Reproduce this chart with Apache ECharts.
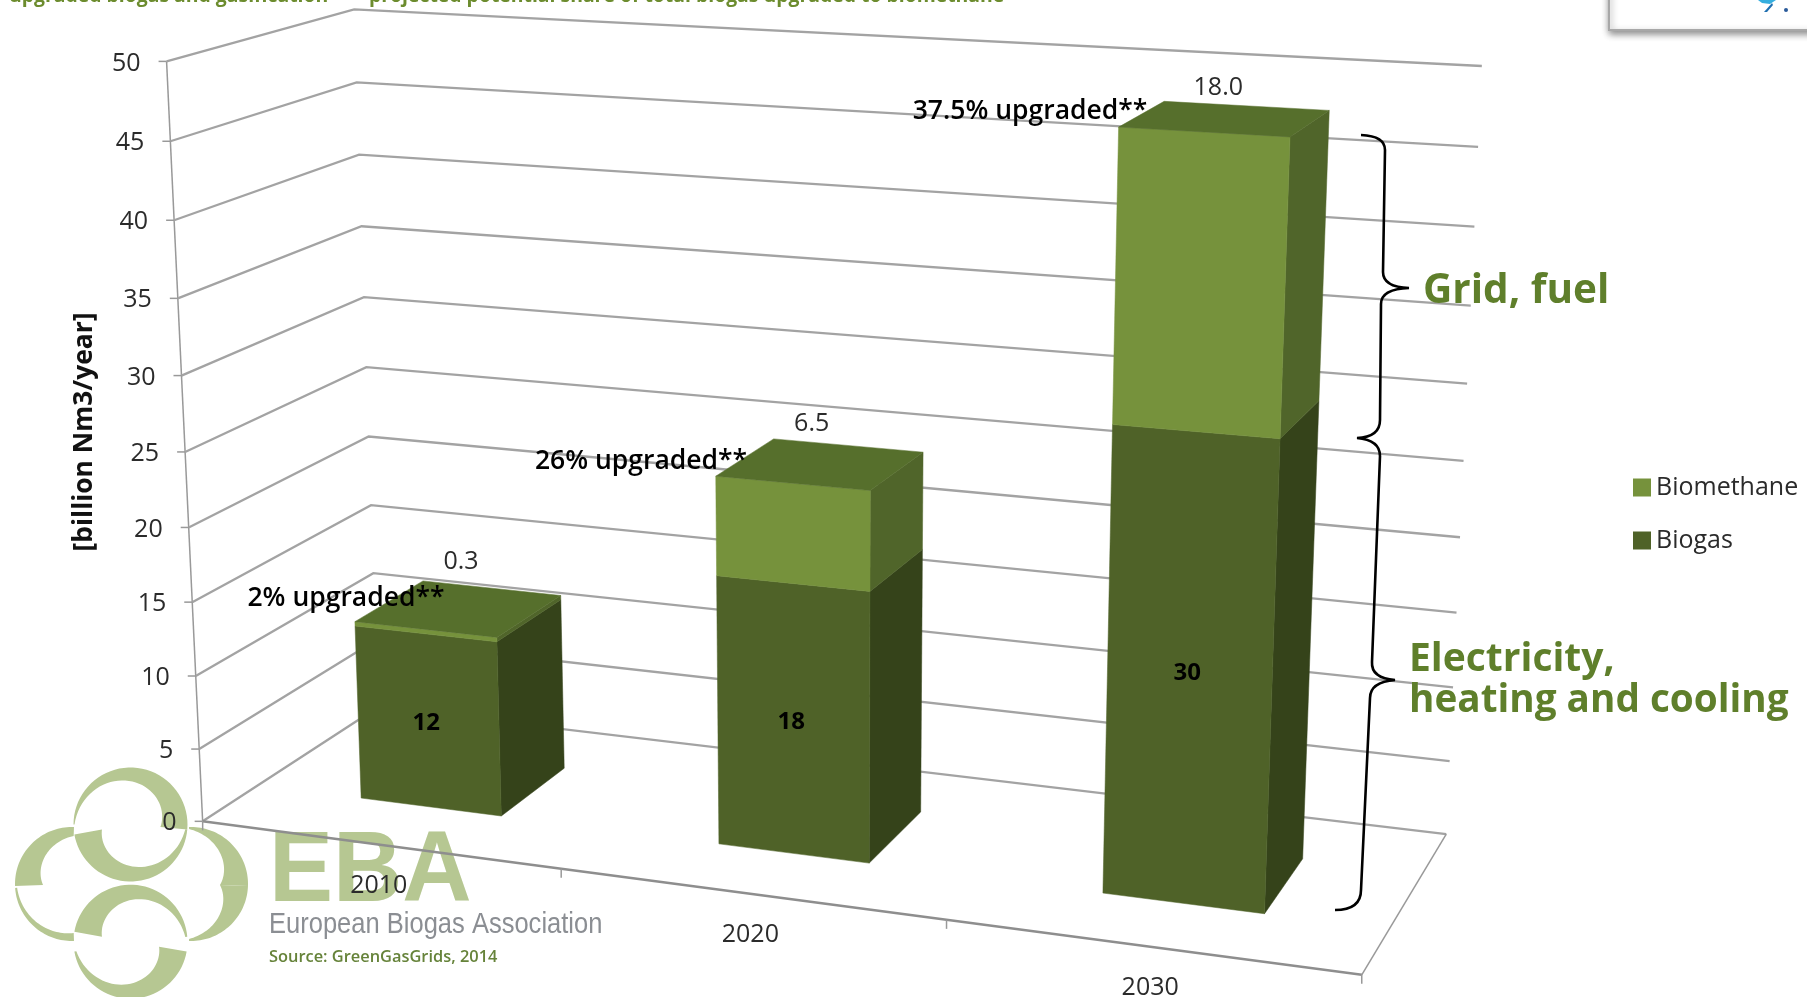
<!DOCTYPE html>
<html><head><meta charset="utf-8">
<style>html,body{margin:0;padding:0;background:#fff}#c{width:1807px;height:997px}</style>
<script src="https://cdn.jsdelivr.net/npm/echarts@6/dist/echarts.min.js"></script></head>
<body><div id="c"></div>
<script>
const categories=['2010','2020','2030'];
const biogas=[12,18,30];
const biomethane=[0.3,6.5,18.0];
const upgradedShare=['2%','26%','37.5%'];
const yTicks=[0,5,10,15,20,25,30,35,40,45,50];

// camera matrix of the 3-D plot box: (category position, depth 0-1, value) -> screen
const P=[1.017153,0.210407,-0.045095,0.202648,0.051894,-0.048283,-0.763271,0.821333,-0.104246,0.093148,-0.054172];
function proj(u,v,h){const X=u/3,Y=v,Z=h/50,w=P[8]*X+P[9]*Y+P[10]*Z+1;
  return [1000*(P[0]*X+P[1]*Y+P[2]*Z+P[3])/w,1000*(P[4]*X+P[5]*Y+P[6]*Z+P[7])/w];}

const FONT='"Open Sans"';
const colors={biogasFront:'#4f6228',biogasSide:'#35431a',methaneFront:'#76923c',methaneSide:'#50652a',top:'#566f2c',grid:'#a3a3a3',text:'#2b2b2b',green:'#5f7f2b',logo:'#b6c792'};
const chart=echarts.init(document.getElementById('c'));
// read the hidden axes' scales, then lift to the 3-D box
function space(api,i,val){const c=api.coord([i,val]);return [c[0]/api.getWidth()*3,(1-c[1]/api.getHeight())*50];}
function poly(pts,fill){return {type:'polygon',shape:{points:pts},style:{fill:fill,stroke:fill,lineWidth:.5}};}
function line(pts,stroke,w){return {type:'polyline',shape:{points:pts},style:{stroke:stroke,fill:'none',lineWidth:w}};}
function txt(x,y,t,font,fill,align){return {type:'text',x:x,y:y,style:{text:t,font:font,fill:fill||colors.text,align:align||'center',verticalAlign:'middle'}};}
function barFaces(u,h0,h1,front,side,withTop){
  const a=u-.2,b=u+.2,f=.3,k=.7;
  const out=[
    poly([proj(b,f,h0),proj(b,k,h0),proj(b,k,h1),proj(b,f,h1)],side),
    poly([proj(a,f,h0),proj(b,f,h0),proj(b,f,h1),proj(a,f,h1)],front)];
  if(withTop)out.push(poly([proj(a,f,h1),proj(b,f,h1),proj(b,k,h1),proj(a,k,h1)],colors.top));
  return out;
}
const renderAxis=(params,api)=>{
  const val=api.value(1),i=params.dataIndex,ch=[];
  const H=space(api,0,val)[1];
  const a=proj(0,0,H),b=proj(0,1,H),c=proj(3,1,H);
  ch.push(line([a,b,c],colors.grid,2.3));
  ch.push(line([[a[0]-8,a[1]],a],'#999',1.5));
  ch.push(txt(a[0]-26,a[1]+2,String(val),'25px '+FONT,colors.text,'right'));
  if(i===0){
    ch.push(line([proj(0,0,0),proj(0,0,50)],'#999',1.5));
    ch.push(line([proj(3,1,0),proj(3,0,0)],'#999',1.5));
    ch.push(line([proj(0,0,0),proj(3,0,0)],'#8e8e8e',2.5));
    [0,1,2,3].forEach(u=>{const p=proj(u,0,0);ch.push(line([p,[p[0],p[1]+9]],'#999',1.5));});
  }
  return {type:'group',children:ch};
};
const renderBiogas=(params,api)=>{
  const i=params.dataIndex,t=space(api,i,api.value(1));
  const ch=barFaces(t[0],0,t[1],colors.biogasFront,colors.biogasSide,false);
  const p=proj(t[0],.3,t[1]/2);
  ch.push(txt(p[0]-2,p[1]+2,String(api.value(1)),'bold 24px '+FONT,'#000'));
  return {type:'group',children:ch};
};
const topLabelNudge=[[2,-47],[-9,-40],[-7,-31]];
const renderMethane=(params,api)=>{
  const i=params.dataIndex,t0=space(api,i,api.value(1)),t1=space(api,i,api.value(2));
  const ch=barFaces(t0[0],t0[1],t1[1],colors.methaneFront,colors.methaneSide,true);
  const p=proj(t0[0],.5,t1[1]);
  ch.push(txt(p[0]+topLabelNudge[i][0],p[1]+topLabelNudge[i][1],biomethane[i].toFixed(1),'25px '+FONT));
  return {type:'group',children:ch};
};
const renderCat=(params,api)=>{
  const i=params.dataIndex,t=space(api,i,0),p=proj(t[0],0,0);
  return txt(p[0],p[1]+41,categories[i],'25px '+FONT);
};
const bracePath='M1361 135 Q1385 136 1385 150 L1383 272 Q1383 287 1409 288 Q1381 289 1381 304 L1380 420 Q1380 437 1357 438 Q1380 440 1380 456 L1372 662 Q1371 678 1395 680 Q1370 682 1370 698 L1361 890 Q1361 910 1335 910';
const renderBrace=()=>({type:'path',shape:{pathData:bracePath},style:{stroke:'#000',lineWidth:2.6,fill:'none'}});
function crescent(cx,cy,R,a0,a1,t0,t1){
  const pts=[],N=40;
  for(let k=0;k<=N;k++){const a=(a0+(a1-a0)*k/N)*Math.PI/180;pts.push([cx+R*Math.cos(a),cy+R*Math.sin(a)]);}
  for(let k=N;k>=0;k--){const q=k/N,a=(a0+(a1-a0)*q)*Math.PI/180,r=R-(t0+(t1-t0)*q);pts.push([cx+r*Math.cos(a),cy+r*Math.sin(a)]);}
  return {type:'polygon',z:-5,shape:{points:pts},style:{fill:colors.logo}};
}
const logo=[
  crescent(130.5,824.5,57,180,365,1,27),crescent(130.5,824.5,57,170,5,28,2),
  crescent(130.5,941.7,57,190,355,28,2),crescent(130.5,941.7,57,170,10,2,28),
  crescent(72,884,57,178,272,28,9),crescent(72,884,57,176,88,2,8),
  crescent(191,884,57,268,362,2,28),crescent(191,884,57,2,92,28,2)
];
function gtext(x,y,t,font,fill,align,z,sx){return {type:'text',x:x,y:y,scaleX:sx||1,z:z===undefined?50:z,style:{text:t,font:font,fill:fill,align:align||'left',verticalAlign:'middle'}};}
const option={
  animation:false,backgroundColor:'#fff',
  grid:{left:0,right:0,top:0,bottom:0,containLabel:false},
  xAxis:{type:'category',data:categories,show:false},
  yAxis:{type:'value',min:0,max:50,interval:5,show:false},
  legend:{orient:'vertical',left:1628,top:470,itemWidth:18,itemHeight:18,itemGap:28,icon:'rect',data:['Biomethane','Biogas'],selectedMode:false,textStyle:{fontFamily:FONT,fontSize:25,color:colors.text}},
  series:[
    {type:'custom',name:'axis',silent:true,clip:false,z:2,data:yTicks.map(v=>[0,v]),encode:{x:0,y:1},renderItem:renderAxis},
    {type:'custom',name:'Biogas',silent:true,clip:false,z:3,itemStyle:{color:colors.biogasFront},data:biogas.map((v,i)=>[i,v]),encode:{x:0,y:1},renderItem:renderBiogas},
    {type:'custom',name:'Biomethane',silent:true,clip:false,z:3,itemStyle:{color:colors.methaneFront},data:biomethane.map((v,i)=>[i,biogas[i],biogas[i]+v]),encode:{x:0,y:2},renderItem:renderMethane},
    {type:'custom',name:'cat',silent:true,clip:false,z:4,data:categories.map((c,i)=>[i,0]),encode:{x:0,y:1},renderItem:renderCat},
    {type:'custom',name:'brace',silent:true,clip:false,z:5,data:[[0,0]],encode:{x:0,y:1},renderItem:renderBrace}
  ],
  graphic:{elements:[
    ...logo,
    gtext(269,873,'EBA','bold 100px "Liberation Sans"',colors.logo,'left',-4,.96),
    gtext(269,925,'European Biogas Association','29px "Liberation Sans"','#8b8e93','left',-4,.88),
    gtext(269,957,'Source: GreenGasGrids, 2014','600 16.4px '+FONT,'#66833a','left',-4),
    gtext(9,-4,'upgraded biogas and gasification','bold 19.4px '+FONT,'#6c8c2e'),
    gtext(369,-4,'projected potential share of total biogas upgraded to biomethane','bold 19.4px '+FONT,'#6c8c2e'),
    {type:'rect',z:40,shape:{x:1609,y:-20,width:230,height:50},style:{fill:'#fff',stroke:'#a8a8a8',lineWidth:2,shadowBlur:7,shadowColor:'rgba(0,0,0,.45)',shadowOffsetX:1,shadowOffsetY:3}},
    {type:'polygon',z:41,shape:{points:[[1764,12],[1772,3],[1773,5],[1767,12]]},style:{fill:'#1f6fb0'}},
    {type:'polygon',z:41,shape:{points:[[1758,0],[1776,0],[1770,4],[1762,3]]},style:{fill:'#35aede'}},
    {type:'circle',z:41,shape:{cx:1786,cy:10,r:2},style:{fill:'#2a5a9a'}},
    {type:'text',z:50,x:84,y:432,rotation:Math.PI/2,style:{text:'[billion Nm3/year]',font:'bold 26.4px '+FONT,fill:'#111',align:'center',verticalAlign:'middle'}},
    gtext(346,598,upgradedShare[0]+' upgraded**','600 26.5px '+FONT,'#000','center'),
    gtext(641,461,upgradedShare[1]+' upgraded**','600 26.5px '+FONT,'#000','center'),
    gtext(1030,111,upgradedShare[2]+' upgraded**','600 26.5px '+FONT,'#000','center'),
    gtext(1423,291,'Grid, fuel','bold 40.5px '+FONT,colors.green),
    gtext(1409,660,'Electricity,','bold 39px '+FONT,colors.green),
    gtext(1409,701,'heating and cooling','bold 38.7px '+FONT,colors.green)
  ]}
};
chart.setOption(option);
</script></body></html>
